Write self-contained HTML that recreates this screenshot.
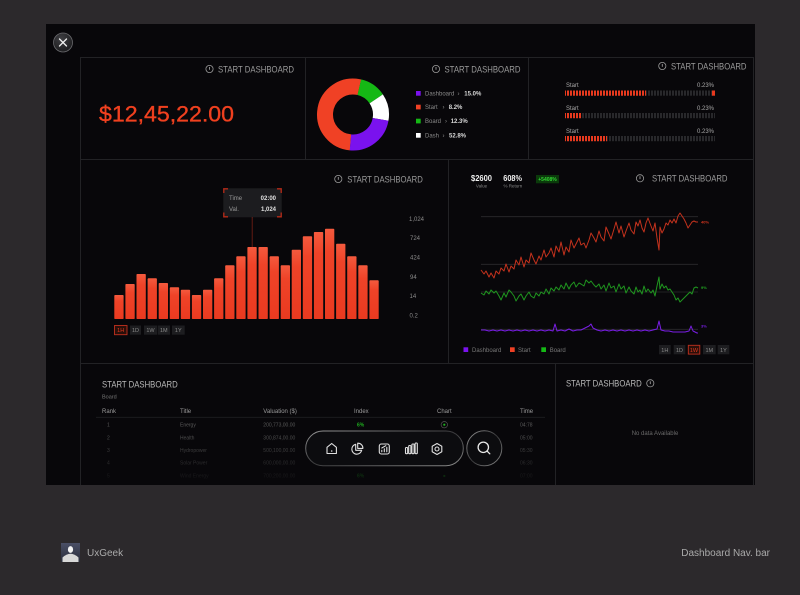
<!DOCTYPE html>
<html><head><meta charset="utf-8"><style>
html,body{margin:0;padding:0;background:#2c292c;}
svg{display:block;font-family:"Liberation Sans",Arial,sans-serif;}
</style></head><body>
<svg width="800" height="595" viewBox="0 0 800 595" xmlns="http://www.w3.org/2000/svg">
<defs>
<linearGradient id="barg" x1="0" y1="0" x2="0" y2="1"><stop offset="0" stop-color="#f45a3e"/><stop offset="0.25" stop-color="#ef4328"/><stop offset="1" stop-color="#ea3a20"/></linearGradient>
<pattern id="pr" width="3" height="6" patternUnits="userSpaceOnUse"><rect width="2" height="6" fill="#e8391e"/></pattern>
<pattern id="pg" width="3" height="6" patternUnits="userSpaceOnUse"><rect width="2" height="6" fill="#28282b"/></pattern>
<linearGradient id="navst" x1="0" y1="0" x2="1" y2="1"><stop offset="0" stop-color="#9a9a9a"/><stop offset="0.5" stop-color="#3a3a3c"/><stop offset="1" stop-color="#8a8a8a"/></linearGradient>
<linearGradient id="fade" x1="0" y1="0" x2="0" y2="1"><stop offset="0" stop-color="#08070a" stop-opacity="0"/><stop offset="1" stop-color="#08070a" stop-opacity="0.95"/></linearGradient>
<radialGradient id="btn" cx="0.4" cy="0.3" r="0.8"><stop offset="0" stop-color="#3e3e42"/><stop offset="1" stop-color="#18181a"/></radialGradient>
<linearGradient id="av" x1="0" y1="0" x2="0" y2="1"><stop offset="0" stop-color="#4a4f66"/><stop offset="1" stop-color="#2a2d3a"/></linearGradient>
</defs>

<rect width="800" height="595" fill="#2c292c"/>
<rect x="46" y="24" width="709" height="461" fill="#08070a"/>

<!-- grid lines -->
<g stroke="#222225" stroke-width="1" fill="none">
<line x1="80" y1="57.5" x2="754" y2="57.5"/>
<line x1="80" y1="159.5" x2="754" y2="159.5"/>
<line x1="80" y1="363.5" x2="754" y2="363.5"/>
<line x1="80.5" y1="57" x2="80.5" y2="485"/>
<line x1="753.5" y1="57" x2="753.5" y2="485"/>
<line x1="305.5" y1="57" x2="305.5" y2="159"/>
<line x1="528.5" y1="57" x2="528.5" y2="159"/>
<line x1="448.5" y1="159" x2="448.5" y2="363"/>
<line x1="555.5" y1="363" x2="555.5" y2="485"/>
</g>

<!-- close button -->
<circle cx="63" cy="42.5" r="9.5" fill="url(#btn)" stroke="#6a6a6e" stroke-width="0.8"/>
<g stroke="#eee" stroke-width="1.3" stroke-linecap="round"><line x1="59.5" y1="39" x2="66.5" y2="46"/><line x1="66.5" y1="39" x2="59.5" y2="46"/></g>

<!-- header icons + titles -->
<g fill="none" stroke="#9a9a9a" stroke-width="0.8">
<circle cx="209.5" cy="69" r="3.6"/><circle cx="436" cy="69" r="3.6"/><circle cx="662.3" cy="66" r="3.6"/>
<circle cx="338.3" cy="179" r="3.6"/><circle cx="640" cy="178.3" r="3.6"/><circle cx="650.3" cy="383.3" r="3.6"/>
</g>
<g stroke="#9a9a9a" stroke-width="0.9">
<line x1="209.5" y1="67" x2="209.5" y2="69.8"/><line x1="436" y1="67" x2="436" y2="69.8"/><line x1="662.3" y1="64" x2="662.3" y2="66.8"/>
<line x1="338.3" y1="177" x2="338.3" y2="179.8"/><line x1="640" y1="176.3" x2="640" y2="179.1"/><line x1="650.3" y1="381.3" x2="650.3" y2="384.1"/>
</g>
<g fill="#9a9a9a" font-size="9">
<text x="218" y="72.3" textLength="76" lengthAdjust="spacingAndGlyphs">START DASHBOARD</text>
<text x="444.5" y="72.3" textLength="76" lengthAdjust="spacingAndGlyphs">START DASHBOARD</text>
<text x="671" y="69.3" textLength="75.5" lengthAdjust="spacingAndGlyphs">START DASHBOARD</text>
<text x="347.3" y="182.3" textLength="75.5" lengthAdjust="spacingAndGlyphs">START DASHBOARD</text>
<text x="652" y="181.6" textLength="75.5" lengthAdjust="spacingAndGlyphs">START DASHBOARD</text>
</g>
<g fill="#b8b8b8" font-size="9">
<text x="102" y="387.3" textLength="75.7" lengthAdjust="spacingAndGlyphs">START DASHBOARD</text>
<text x="566" y="386.6" textLength="75.7" lengthAdjust="spacingAndGlyphs">START DASHBOARD</text>
</g>

<!-- big number -->
<text x="99" y="121.5" font-size="22.5" fill="#f0401f" stroke="#f0401f" stroke-width="0.35" textLength="135" lengthAdjust="spacingAndGlyphs">$12,45,22.00</text>

<!-- donut -->
<g fill="none" stroke-width="16">
<circle cx="353" cy="114.5" r="28" stroke="#f04125" stroke-dasharray="91.87 200" transform="rotate(95 353 114.5)"/>
<circle cx="353" cy="114.5" r="28" stroke="#15b815" stroke-dasharray="21.01 200" transform="rotate(-77 353 114.5)"/>
<circle cx="353" cy="114.5" r="28" stroke="#ffffff" stroke-dasharray="21.50 200" transform="rotate(-34 353 114.5)"/>
<circle cx="353" cy="114.5" r="28" stroke="#7a12ee" stroke-dasharray="41.54 200" transform="rotate(10 353 114.5)"/>
</g>
<!-- donut legend -->
<rect x="416" y="91" width="4.7" height="4.7" fill="#7a12ee"/>
<rect x="416" y="104.7" width="4.7" height="4.7" fill="#f04125"/>
<rect x="416" y="118.7" width="4.7" height="4.7" fill="#15b815"/>
<rect x="416" y="133" width="4.7" height="4.7" fill="#ffffff"/>
<g font-size="6" fill="#8a8a8a">
<text x="425" y="95.5">Dashboard</text><text x="457.5" y="95.5">›</text>
<text x="425" y="109.2">Start</text><text x="442.5" y="109.2">›</text>
<text x="425" y="123.2">Board</text><text x="445" y="123.2">›</text>
<text x="425" y="137.5">Dash</text><text x="442.5" y="137.5">›</text>
</g>
<g font-size="6" fill="#d8d8d8" font-weight="bold">
<text x="464.3" y="95.5">15.0%</text>
<text x="448.7" y="109.2">8.2%</text>
<text x="450.7" y="123.2">12.3%</text>
<text x="449" y="137.5">52.8%</text>
</g>

<!-- progress bars -->
<g font-size="6" fill="#a8a8a8">
<text x="566" y="87">Start</text><text x="714" y="87" text-anchor="end">0.23%</text>
<text x="566" y="110">Start</text><text x="714" y="110" text-anchor="end">0.23%</text>
<text x="566" y="133">Start</text><text x="714" y="133" text-anchor="end">0.23%</text>
</g>
<rect x="565" y="90.5" width="150" height="5.2" fill="url(#pg)"/>
<rect x="565" y="90.5" width="81" height="5.2" fill="url(#pr)"/>
<rect x="712" y="90.5" width="3" height="5.2" fill="#e8391e"/>
<rect x="565" y="113" width="150" height="5.2" fill="url(#pg)"/>
<rect x="565" y="113" width="17" height="5.2" fill="url(#pr)"/>
<rect x="565" y="136" width="150" height="5.2" fill="url(#pg)"/>
<rect x="565" y="136" width="42" height="5.2" fill="url(#pr)"/>

<!-- bar chart -->
<g fill="url(#barg)">
<rect x="114.3" y="295" width="9.3" height="24" rx="0.8"/>
<rect x="125.4" y="284" width="9.3" height="35" rx="0.8"/>
<rect x="136.5" y="274" width="9.3" height="45" rx="0.8"/>
<rect x="147.6" y="278.3" width="9.3" height="40.7" rx="0.8"/>
<rect x="158.7" y="283" width="9.3" height="36" rx="0.8"/>
<rect x="169.8" y="287.3" width="9.3" height="31.7" rx="0.8"/>
<rect x="180.8" y="289.7" width="9.3" height="29.3" rx="0.8"/>
<rect x="191.9" y="295" width="9.3" height="24" rx="0.8"/>
<rect x="203.0" y="289.7" width="9.3" height="29.3" rx="0.8"/>
<rect x="214.1" y="278.3" width="9.3" height="40.7" rx="0.8"/>
<rect x="225.2" y="265.3" width="9.3" height="53.7" rx="0.8"/>
<rect x="236.3" y="256.3" width="9.3" height="62.7" rx="0.8"/>
<rect x="247.4" y="247" width="9.3" height="72" rx="0.8"/>
<rect x="258.5" y="247" width="9.3" height="72" rx="0.8"/>
<rect x="269.6" y="256.3" width="9.3" height="62.7" rx="0.8"/>
<rect x="280.7" y="265.3" width="9.3" height="53.7" rx="0.8"/>
<rect x="291.7" y="249.7" width="9.3" height="69.3" rx="0.8"/>
<rect x="302.8" y="236.3" width="9.3" height="82.7" rx="0.8"/>
<rect x="313.9" y="232" width="9.3" height="87" rx="0.8"/>
<rect x="325.0" y="228.7" width="9.3" height="90.3" rx="0.8"/>
<rect x="336.1" y="243.7" width="9.3" height="75.3" rx="0.8"/>
<rect x="347.2" y="256.3" width="9.3" height="62.7" rx="0.8"/>
<rect x="358.3" y="265.3" width="9.3" height="53.7" rx="0.8"/>
<rect x="369.4" y="280.3" width="9.3" height="38.7" rx="0.8"/>
</g>
<!-- tooltip -->
<line x1="252.2" y1="217.5" x2="252.2" y2="247" stroke="#d0341e" stroke-width="0.9" stroke-dasharray="1 1"/>
<rect x="223.3" y="188.3" width="58.4" height="29" fill="#1c1c1f"/>
<g stroke="#b82a18" stroke-width="1.3" fill="none">
<polyline points="223.8,193 223.8,188.8 228,188.8"/>
<polyline points="277,188.8 281.2,188.8 281.2,193"/>
<polyline points="223.8,212.5 223.8,216.8 228,216.8"/>
<polyline points="277,216.8 281.2,216.8 281.2,212.5"/>
</g>
<g font-size="6">
<text x="229" y="200" fill="#999">Time</text><text x="276" y="200" fill="#e0e0e0" text-anchor="end" font-weight="bold">02:00</text>
<text x="229" y="211" fill="#999">Val.</text><text x="276" y="211" fill="#e0e0e0" text-anchor="end" font-weight="bold">1,024</text>
</g>
<!-- y labels -->
<g font-size="6" fill="#8a8a8a">
<text x="409" y="221">1,024</text><text x="410" y="240">724</text><text x="410" y="259.7">424</text>
<text x="410" y="279">94</text><text x="409.5" y="298">14</text><text x="409.5" y="317.7">0.2</text>
</g>
<!-- left time buttons -->
<rect x="114.5" y="325.5" width="12.5" height="9.2" fill="#2a0f0a" stroke="#c0301e" stroke-width="0.9"/>
<rect x="130" y="325.5" width="11" height="9.2" fill="#1d1d20"/>
<rect x="144" y="325.5" width="13" height="9.2" fill="#1d1d20"/>
<rect x="157.7" y="325.5" width="12.3" height="9.2" fill="#1d1d20"/>
<rect x="172" y="325.5" width="12.7" height="9.2" fill="#1d1d20"/>
<g font-size="5.5" text-anchor="middle">
<text x="120.7" y="332.2" fill="#e0391f">1H</text>
<text x="135.5" y="332.2" fill="#8a8a8a">1D</text>
<text x="150.5" y="332.2" fill="#8a8a8a">1W</text>
<text x="163.8" y="332.2" fill="#8a8a8a">1M</text>
<text x="178.3" y="332.2" fill="#8a8a8a">1Y</text>
</g>

<!-- line chart panel -->
<text x="471" y="181" font-size="8" font-weight="bold" fill="#f0f0f0" textLength="21" lengthAdjust="spacingAndGlyphs">$2600</text>
<text x="481.5" y="187.5" font-size="4.5" fill="#888" text-anchor="middle">Value</text>
<text x="503.3" y="181" font-size="8" font-weight="bold" fill="#f0f0f0" textLength="18.7" lengthAdjust="spacingAndGlyphs">608%</text>
<text x="503.5" y="187.5" font-size="4.5" fill="#888">% Return</text>
<rect x="536" y="175" width="23" height="8.3" fill="#0b3a0b"/>
<text x="547.5" y="181" font-size="5" font-weight="bold" fill="#33d433" text-anchor="middle">+5408%</text>

<g stroke="#2a2a2d" stroke-width="0.8">
<line x1="481" y1="216.7" x2="698" y2="216.7"/>
<line x1="481" y1="264.3" x2="698" y2="264.3"/>
<line x1="481" y1="292" x2="698" y2="292"/>
<line x1="481" y1="329.3" x2="698" y2="329.3"/>
</g>
<polyline fill="none" stroke="#c4321d" stroke-width="1" stroke-linejoin="round" points="481,270 484,274 486,271 489,277 491,273 494,278 496,271 499,274 501,268 504,271 506,264 509,272 511,266 514,269 516,260 519,265 521,257 524,267 526,260 529,263 531,253 534,260 536,264 539,256 541,260 544,250 546,257 549,253 551,248 554,257 556,246 559,252 561,242 564,255 566,247 569,252 571,240 574,248 576,244 579,238 581,245 584,243 586,248 589,240 591,233 594,238 596,242 599,231 601,237 604,241 606,227 609,234 611,239 614,229 616,222 619,233 621,226 624,237 626,231 629,223 631,230 634,234 636,222 638,226 640,220 642,228 644,232 646,223 648,218 651,226 653,231 655,223 657,238 659,250 660,227 662,233 664,229 666,223 668,225 670,220 672,223 674,219 676,223 678,216 680,213 682,216 684,219 686,223 688,228 690,225 692,222 694,221 696,222 698,222"/>
<polyline fill="none" stroke="#1f951f" stroke-width="1" stroke-linejoin="round" points="481,293 484,295 486,291 489,294 491,290 494,293 496,291 499,296 501,300 504,293 506,297 509,290 511,292 514,296 516,301 519,296 521,294 524,300 526,296 529,292 531,296 534,298 536,293 539,296 541,292 544,294 546,289 549,294 551,288 554,291 556,287 559,290 561,285 564,289 566,283 569,289 571,285 574,282 576,287 579,283 581,284 584,286 586,280 589,283 591,281 594,285 596,287 599,284 601,289 604,285 606,291 609,283 611,288 614,286 616,292 619,284 621,289 624,286 626,293 629,287 631,291 634,294 636,287 638,292 640,290 642,294 644,286 646,292 648,289 651,293 653,290 655,296 657,286 659,277 660,289 662,284 664,288 666,286 668,290 670,289 672,292 674,295 676,300 678,298 680,302 682,300 684,298 686,296 688,294 690,292 692,294 694,288 696,287 698,288"/>
<polyline fill="none" stroke="#7a1ee6" stroke-width="1" stroke-linejoin="round" points="481,330 485,330 489,331 493,330 497,331 501,330 505,331 509,330 513,331 517,330 521,331 525,330 529,331 533,330 537,331 541,330 545,331 549,330 553,331 555,324 557,331 561,330 565,331 569,329 573,331 577,330 581,330 585,328 589,326 591,324 593,328 597,330 601,331 605,330 609,331 613,330 617,331 621,330 625,331 629,330 633,331 637,330 641,331 645,330 649,331 653,330 657,329 659,321 661,330 665,331 669,331 673,332 677,332 681,332 685,332 689,331 691,326 693,331 697,333 698,333"/>
<g font-size="4" font-weight="bold">
<text x="701" y="223.5" fill="#d0341e">40%</text>
<text x="701" y="289" fill="#22a822">9%</text>
<text x="701" y="327.5" fill="#7a1ee6">3%</text>
</g>
<!-- line legend -->
<rect x="463.5" y="347.3" width="4.7" height="4.7" fill="#7a12ee"/>
<rect x="510" y="347.3" width="4.7" height="4.7" fill="#f04125"/>
<rect x="541.3" y="347.3" width="4.7" height="4.7" fill="#15b815"/>
<g font-size="6" fill="#777">
<text x="472" y="351.8">Dashboard</text><text x="518" y="351.8">Start</text><text x="549.7" y="351.8">Board</text>
</g>
<rect x="659" y="345" width="11.7" height="9.3" fill="#1d1d20"/>
<rect x="673.7" y="345" width="11.6" height="9.3" fill="#1d1d20"/>
<rect x="688.3" y="345.3" width="11.5" height="8.8" fill="#2a0f0a" stroke="#c0301e" stroke-width="0.9"/>
<rect x="703" y="345" width="12.7" height="9.3" fill="#1d1d20"/>
<rect x="717.7" y="345" width="11.6" height="9.3" fill="#1d1d20"/>
<g font-size="5.5" text-anchor="middle">
<text x="664.8" y="351.8" fill="#8a8a8a">1H</text>
<text x="679.5" y="351.8" fill="#8a8a8a">1D</text>
<text x="694" y="351.8" fill="#e0391f">1W</text>
<text x="709.3" y="351.8" fill="#8a8a8a">1M</text>
<text x="723.5" y="351.8" fill="#8a8a8a">1Y</text>
</g>

<!-- table -->
<text x="102" y="398.7" font-size="5.5" fill="#777">Board</text>
<g font-size="6" fill="#9a9a9a">
<text x="102" y="412.8">Rank</text><text x="180" y="412.8">Title</text><text x="263.3" y="412.8">Valuation ($)</text>
<text x="354" y="412.8">Index</text><text x="437" y="412.8">Chart</text><text x="520" y="412.8">Time</text>
</g>
<line x1="96" y1="417.3" x2="545" y2="417.3" stroke="#1e1e21" stroke-width="0.8"/>
<g font-size="5" fill="#5a5a5a">
<text x="107" y="426.3">1</text><text x="180" y="426.3">Energy</text><text x="263.3" y="426.3">200,773,00.00</text><text x="520" y="426.3">04:78</text>
<text x="107" y="439.3">2</text><text x="180" y="439.3">Health</text><text x="263.3" y="439.3">300,874,00.00</text><text x="520" y="439.3">05:00</text>
<text x="107" y="452">3</text><text x="180" y="452">Hydropower</text><text x="263.3" y="452">500,100,00.00</text><text x="520" y="452">05:30</text>
<text x="107" y="464.7">4</text><text x="180" y="464.7">Solar Power</text><text x="263.3" y="464.7">600,000,00.00</text><text x="520" y="464.7">06:30</text>
<text x="107" y="477.7">5</text><text x="180" y="477.7">Wind Energy</text><text x="263.3" y="477.7">700,200,00.00</text><text x="520" y="477.7">07:00</text>
</g>
<text x="357" y="426.3" font-size="5" font-weight="bold" fill="#1fae1f">6%</text>
<circle cx="444.3" cy="424.7" r="3.2" fill="none" stroke="#555" stroke-width="0.7"/>
<circle cx="444.3" cy="424.7" r="1.1" fill="#1fae1f"/>
<text x="357" y="477.7" font-size="5" font-weight="bold" fill="#1fae1f">6%</text>
<circle cx="444.3" cy="476" r="1.1" fill="#1fae1f"/>
<rect x="81" y="428" width="474" height="57" fill="url(#fade)"/>

<!-- no data -->
<text x="655" y="434.8" font-size="6" fill="#6a6a6a" text-anchor="middle">No data Available</text>

<!-- nav bar -->
<rect x="305.7" y="431" width="157.6" height="34.7" rx="17.35" fill="#0d0d10" fill-opacity="0.92" stroke="url(#navst)" stroke-width="1"/>
<g fill="none" stroke="#e0e0e0" stroke-width="1.1" stroke-linejoin="round" stroke-linecap="round">
<path d="M327 453.5 V447.3 L331.7 443.5 L336.4 447.3 V453.5 Z"/>
<path d="M355.7 444.3 A5 5 0 1 0 361.7 450.3 H355.7 Z"/>
<path d="M357.7 443.2 A5 5 0 0 1 362.9 448.4 H357.7 Z"/>
<rect x="379.3" y="444" width="10" height="10" rx="2"/>
<path d="M381.8 451.8 V450.3 M384.3 451.8 V448.8 M386.8 451.8 V447.3 M381.8 448 L385.8 445.7"/>
<rect x="405.5" y="447.5" width="2.2" height="6.2" rx="0.8"/>
<rect x="408.7" y="445.5" width="2.2" height="8.2" rx="0.8"/>
<rect x="411.9" y="444" width="2.2" height="9.7" rx="0.8"/>
<rect x="415.1" y="443" width="2.2" height="10.7" rx="0.8"/>
<path d="M437 443.5 L441.8 446.25 V451.75 L437 454.5 L432.2 451.75 V446.25 Z"/>
<circle cx="437" cy="449" r="2"/>
</g>
<circle cx="331.7" cy="451" r="0.8" fill="#e0e0e0"/>
<circle cx="484.3" cy="448.3" r="17.5" fill="#0d0d10" fill-opacity="0.92" stroke="url(#navst)" stroke-width="1"/>
<g fill="none" stroke="#e8e8e8" stroke-width="1.3" stroke-linecap="round">
<circle cx="483.3" cy="447.3" r="5.2"/><line x1="487.2" y1="451.2" x2="489.8" y2="453.8"/>
</g>

<!-- footer -->
<rect x="61" y="543" width="19" height="19" fill="url(#av)"/>
<ellipse cx="70.5" cy="549.5" rx="2.6" ry="3.4" fill="#f4f4f4"/>
<path d="M62.5 562 V557.5 Q70.5 550 78.5 557.5 V562 Z" fill="#d8d8d8"/>
<text x="87" y="556" font-size="10" fill="#aaaaaa">UxGeek</text>
<text x="770" y="556" font-size="10" fill="#aaaaaa" text-anchor="end">Dashboard Nav. bar</text>
</svg>
</body></html>
